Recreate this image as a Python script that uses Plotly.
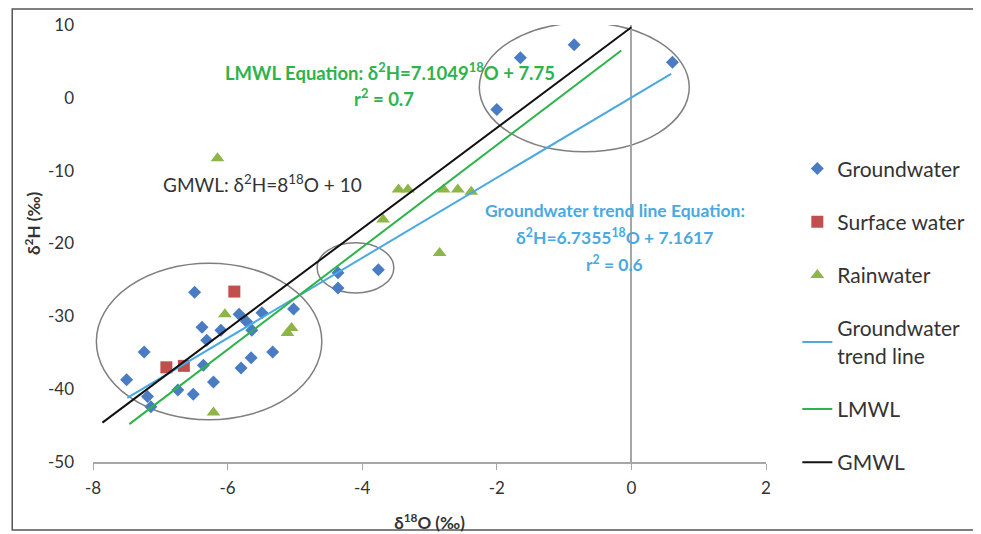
import plotly.graph_objects as go

# ---- data ----
gw_x = [-6.49, -7.24, -7.50, -7.19, -7.14, -6.74, -6.51, -6.38, -6.31, -6.36, -6.21, -6.10,
        -5.83, -5.72, -5.64, -5.49, -5.80, -5.65, -5.33, -5.02,
        -4.36, -4.36, -3.76,
        -1.65, -0.85, -2.00, 0.61]
gw_y = [-26.7, -34.9, -38.7, -41.0, -42.4, -40.1, -40.7, -31.5, -33.3, -36.7, -39.0, -31.9,
        -29.7, -30.7, -31.9, -29.5, -37.1, -35.7, -34.9, -29.0,
        -24.0, -26.1, -23.6,
        5.5, 7.3, -1.6, 4.9]

sw_x = [-5.90, -6.91, -6.65]
sw_y = [-26.6, -37.0, -36.8]

rw_x = [-6.04, -6.21, -5.11, -5.05, -6.15, -3.46, -3.32, -2.79, -2.58, -2.38, -3.69, -2.85]
rw_y = [-29.7, -43.2, -32.3, -31.6, -8.3, -12.6, -12.6, -12.6, -12.6, -12.9, -16.7, -21.3]

trend_x = [-7.49, 0.59]
trend_y = [-41.2, 3.3]
lmwl_x = [-7.46, -0.15]
lmwl_y = [-44.8, 6.5]
gmwl_x = [-7.86, 0.0]
gmwl_y = [-44.6, 9.7]

x_ticks = [-8, -6, -4, -2, 0, 2]
y_ticks = [10, 0, -10, -20, -30, -40, -50]

FONT = "Lato"
GREEN_TXT = "#2db34a"
BLUE_TXT = "#4aa9e0"
fig = go.Figure()

fig.add_trace(go.Scatter(x=gw_x, y=gw_y, mode="markers", name="Groundwater", legendgroup="a",
                         marker=dict(symbol="diamond", size=10, color="#4a7cc4")))
fig.add_trace(go.Scatter(x=sw_x, y=sw_y, mode="markers", name="Surface water", legendgroup="b",
                         marker=dict(symbol="square", size=12, color="#c0504d")))
fig.add_trace(go.Scatter(x=rw_x, y=rw_y, mode="markers", name="Rainwater", legendgroup="c",
                         marker=dict(symbol="triangle-up", size=12, color="#8db548")))
fig.add_trace(go.Scatter(x=trend_x, y=trend_y, mode="lines", name="Groundwater<br>trend line", legendgroup="d",
                         line=dict(color="#4aa9e0", width=2)))
fig.add_trace(go.Scatter(x=lmwl_x, y=lmwl_y, mode="lines", name="LMWL", legendgroup="e",
                         line=dict(color="#2db34a", width=2)))
fig.add_trace(go.Scatter(x=gmwl_x, y=gmwl_y, mode="lines", name="GMWL", legendgroup="f",
                         line=dict(color="#111111", width=2)))

shapes = [
    dict(type="circle", xref="x", yref="y", x0=-7.95, x1=-4.60, y0=-44.2, y1=-22.7,
         line=dict(color="#7f7f7f", width=1.5), layer="below"),
    dict(type="circle", xref="x", yref="y", x0=-4.67, x1=-3.53, y0=-26.8, y1=-19.9,
         line=dict(color="#7f7f7f", width=1.5), layer="below"),
    dict(type="circle", xref="x", yref="y", x0=-2.26, x1=0.86, y0=-7.4, y1=10.3,
         line=dict(color="#7f7f7f", width=1.5), layer="below"),
    dict(type="rect", xref="paper", yref="paper", x0=-0.120, x1=1.3116, y0=-0.1556, y1=1.0366,
         line=dict(color="#555555", width=1.5)),
]

def ann(x, y, text, size, color, xanchor="center"):
    return dict(x=x, y=y, xref="x", yref="y", showarrow=False, xanchor=xanchor, yanchor="middle",
                text=text, font=dict(family=FONT, size=size, color=color))

annotations = [
    ann(-3.59, 3.6, "<b>LMWL Equation: δ<sup>2</sup>H=7.1049<sup>18</sup>O + 7.75</b>", 18.5, GREEN_TXT),
    ann(-3.68, 0.0, "<b>r<sup>2</sup> = 0.7</b>", 18.5, GREEN_TXT),
    ann(-6.99, -11.7, "GMWL: δ<sup>2</sup>H=8<sup>18</sup>O + 10", 19, "#333333", xanchor="left"),
    ann(-0.25, -15.4, "<b>Groundwater trend line Equation:</b>", 17.5, BLUE_TXT),
    ann(-0.25, -19.1, "<b>δ<sup>2</sup>H=6.7355<sup>18</sup>O + 7.1617</b>", 17.5, BLUE_TXT),
    ann(-0.25, -22.8, "<b>r<sup>2</sup> = 0.6</b>", 17.5, BLUE_TXT),
    dict(x=-0.089, y=0.545, xref="paper", yref="paper", showarrow=False, textangle=-90,
         xanchor="center", yanchor="middle", text="<b>δ<sup>2</sup>H (‰)</b>",
         font=dict(family=FONT, size=17, color="#333333")),
]

fig.update_layout(
    width=973, height=526,
    margin=dict(l=85, r=214, t=17, b=72),
    paper_bgcolor="white", plot_bgcolor="white",
    font=dict(family=FONT, size=17, color="#333333"),
    shapes=shapes, annotations=annotations,
    legend=dict(x=1.045, y=0.718, xanchor="left", yanchor="top", tracegroupgap=23,
                font=dict(family=FONT, size=21, color="#333333"), bgcolor="rgba(0,0,0,0)"),
    showlegend=True,
)
fig.update_xaxes(range=[-8, 2], tickvals=x_ticks, ticktext=[str(v) for v in x_ticks],
                 showgrid=False, zeroline=True, zerolinecolor="#a6a6a6", zerolinewidth=1.5,
                 showline=True, linecolor="#a6a6a6", linewidth=1.5, ticks="outside", ticklen=6,
                 tickcolor="#a6a6a6", ticklabelstandoff=4, tickfont=dict(size=17, color="#333333"),
                 title=dict(text="<b>δ<sup>18</sup>O (‰)</b>", standoff=20, font=dict(size=17)),
                 automargin=False)
fig.update_yaxes(range=[-50, 10], tickvals=y_ticks, ticktext=[str(v) for v in y_ticks],
                 showgrid=False, zeroline=False, showline=False, ticks="",
                 ticklabelstandoff=18, tickfont=dict(size=17, color="#333333"),
                 automargin=False)

fig.write_html("out.html")
